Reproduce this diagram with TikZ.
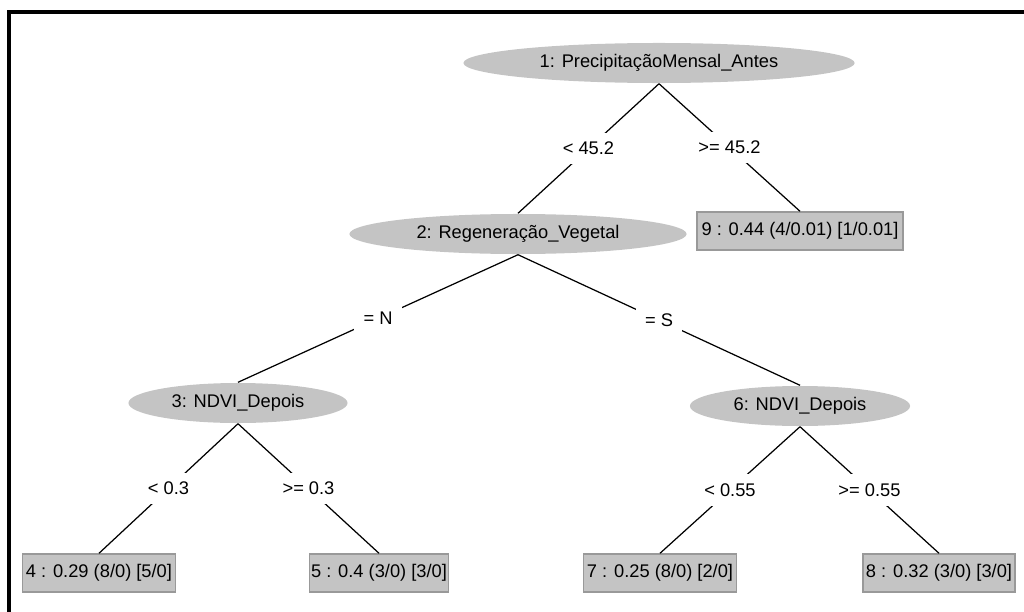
\documentclass[tikz,border=0pt]{standalone}
\usepackage{fontspec}
\setmainfont{Liberation Sans}
\usetikzlibrary{shapes.geometric}
\definecolor{silver}{RGB}{196,196,196}

\begin{document}
\begin{tikzpicture}
        [x=0.01cm, y=-0.01cm, font=\fontsize{5.2}{6}\selectfont,
        split/.style={ellipse, fill=silver, minimum height=0.4cm, inner sep=0pt},
        leaf/.style={rectangle, fill=silver, draw=gray!80, line width=0.4pt, minimum height=0.38cm, inner sep=0pt},
        edge/.style={black, line width=0.35pt},
        cond/.style={fill=white, inner sep=2.6pt},
        frame/.style={black, line width=1.1pt}]

        \useasboundingbox (0,0) rectangle (1024,612);
        \draw[frame] (9,612) -- (9,12) -- (1024,12);

        \node[split, minimum width=3.91cm] (n1) at (659,63) {1: PrecipitaçãoMensal\_Antes};
        \node[split, minimum width=3.37cm] (n2) at (518,234) {2: Regeneração\_Vegetal};
        \node[split, minimum width=2.19cm] (n3) at (238,403) {3: NDVI\_Depois};
        \node[split, minimum width=2.20cm] (n6) at (800,406) {6: NDVI\_Depois};

        \node[leaf, minimum width=2.06cm] (n9) at (800,231) {9 : 0.44 (4/0.01) [1/0.01]};
        \node[leaf, minimum width=1.53cm] (n4) at (99,573) {4 : 0.29 (8/0) [5/0]};
        \node[leaf, minimum width=1.39cm] (n5) at (379,573) {5 : 0.4 (3/0) [3/0]};
        \node[leaf, minimum width=1.53cm] (n7) at (660,573) {7 : 0.25 (8/0) [2/0]};
        \node[leaf, minimum width=1.52cm] (n8) at (939,573) {8 : 0.32 (3/0) [3/0]};

        \draw[edge] (n1.south) -- node[cond] {< 45.2} (n2.north);
        \draw[edge] (n1.south) -- node[cond] {>= 45.2} (n9.north);
        \draw[edge] (n2.south) -- node[cond] {= N} (n3.north);
        \draw[edge] (n2.south) -- node[cond] {= S} (n6.north);
        \draw[edge] (n3.south) -- node[cond] {< 0.3} (n4.north);
        \draw[edge] (n3.south) -- node[cond] {>= 0.3} (n5.north);
        \draw[edge] (n6.south) -- node[cond] {< 0.55} (n7.north);
        \draw[edge] (n6.south) -- node[cond] {>= 0.55} (n8.north);

    \end{tikzpicture}
\end{document}
